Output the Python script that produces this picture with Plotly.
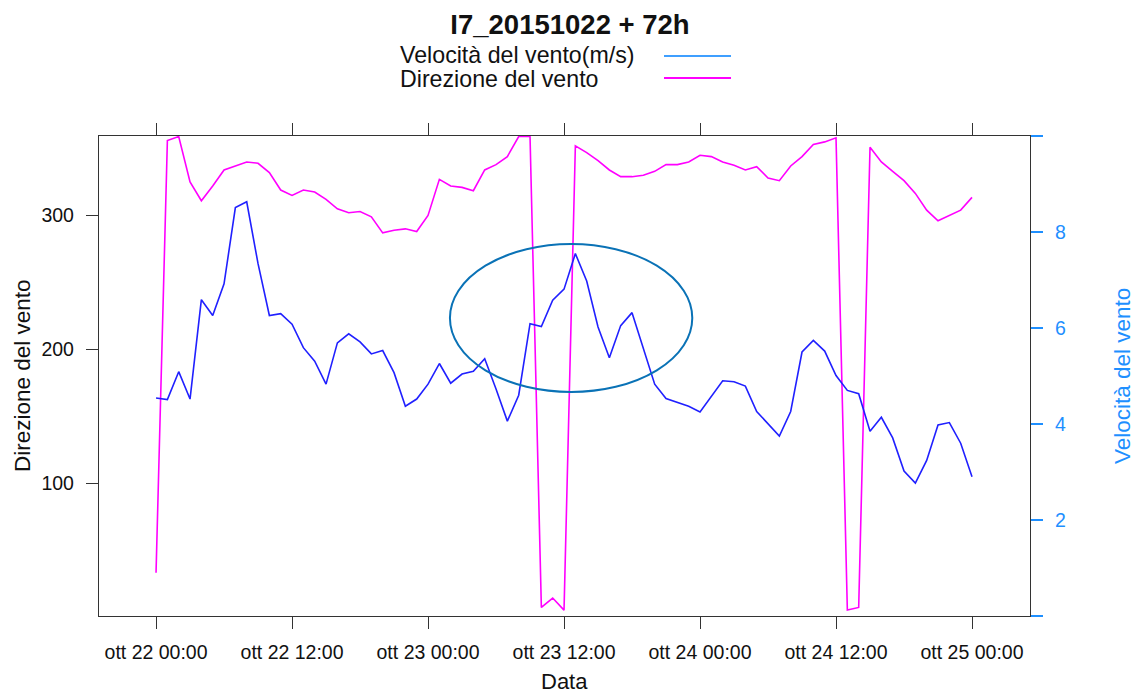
import pandas as pd
import plotly.graph_objects as go

# ---- data (hourly, 2015-10-22 00:00 -> 2015-10-25 00:00) ----
start_time = "2015-10-22 00:00"
n_hours = 73

direzione = [33, 356, 359, 325, 311, 322, 334, 337, 340, 339,
             332, 319, 315, 319, 317.5, 312, 305, 302, 303, 299,
             287, 289, 290, 288, 300, 327, 322, 321, 318.5, 334,
             338, 344, 359, 359, 7, 14, 5, 352, 347, 341,
             334, 329, 329, 330, 333, 338, 338, 340, 345, 344,
             340, 337.5, 334, 336.5, 328, 326, 337, 344, 353, 355,
             358, 5, 7, 351, 340, 333, 326, 316.5, 304, 296,
             300, 304, 313.5]

velocita = [4.54, 4.51, 5.09, 4.52, 6.59, 6.26, 6.92, 8.51, 8.63, 7.34,
            6.26, 6.30, 6.08, 5.59, 5.31, 4.83, 5.69, 5.88, 5.71, 5.46,
            5.53, 5.07, 4.37, 4.52, 4.83, 5.26, 4.85, 5.04, 5.10, 5.36,
            4.73, 4.06, 4.60, 6.09, 6.03, 6.58, 6.81, 7.55, 6.98, 6.02,
            5.38, 6.05, 6.32, 5.57, 4.83, 4.53, 4.45, 4.37, 4.25, 4.58,
            4.90, 4.88, 4.79, 4.26, 4.01, 3.75, 4.26, 5.50, 5.74, 5.52,
            5.01, 4.70, 4.63, 3.85, 4.14, 3.71, 3.02, 2.77, 3.24, 3.98,
            4.03, 3.60, 2.90]

x_tick_vals = ["2015-10-22 00:00", "2015-10-22 12:00", "2015-10-23 00:00",
               "2015-10-23 12:00", "2015-10-24 00:00", "2015-10-24 12:00",
               "2015-10-25 00:00"]
x_tick_text = ["ott 22 00:00", "ott 22 12:00", "ott 23 00:00", "ott 23 12:00",
               "ott 24 00:00", "ott 24 12:00", "ott 25 00:00"]
y_tick_vals = [100, 200, 300]
y2_tick_vals = [0, 2, 4, 6, 8, 10]
y2_tick_text = ["", "2", "4", "6", "8", ""]

title_text = "I7_20151022 + 72h"
legend_labels = ["Velocità del vento(m/s)", "Direzione del vento"]

# ---- styles / layout constants ----
FONT = "Liberation Sans, Arial, Helvetica, sans-serif"
C_SPEED = "#2020ff"
C_DIR = "#ff00ff"
C_AXIS2 = "#1e8fff"
C_LEG_SPEED = "#3f9fff"
C_ELLIPSE = "#0a72b6"
C_FRAME = "#333333"

W, H = 1138, 695
ML, MR, MT, MB = 99, 108, 136, 79
PW, PH = W - ML - MR, H - MT - MB

x_range = ["2015-10-21 18:58", "2015-10-25 05:07"]
y_range = [0.6, 359.4]
y2_range = [0, 10]
ellipse_x = ["2015-10-23 01:56", "2015-10-23 23:19"]
ellipse_y = [4.667, 7.75]

times = pd.date_range(start_time, periods=n_hours, freq="h")


def px_x(p):
    return (p - ML) / PW


def px_y(p):
    return (H - MB - p) / PH


fig = go.Figure()
fig.add_trace(go.Scatter(x=times, y=velocita, mode="lines", yaxis="y2",
                         line=dict(color=C_SPEED, width=1.6),
                         name=legend_labels[0], showlegend=False))
fig.add_trace(go.Scatter(x=times, y=direzione, mode="lines", yaxis="y",
                         line=dict(color=C_DIR, width=1.6),
                         name=legend_labels[1], showlegend=False))

fig.add_shape(type="circle", xref="x", yref="y2",
              x0=ellipse_x[0], x1=ellipse_x[1], y0=ellipse_y[0], y1=ellipse_y[1],
              line=dict(color=C_ELLIPSE, width=2), layer="above")

# custom legend (text left, line right)
leg_rows_y = [55, 79]
leg_line_y = [56, 78]
for label, ty, ly, col in zip(legend_labels, leg_rows_y, leg_line_y, [C_LEG_SPEED, C_DIR]):
    fig.add_annotation(text=label, xref="paper", yref="paper",
                       x=px_x(398), y=px_y(ty), xanchor="left", yanchor="middle",
                       showarrow=False, font=dict(family=FONT, size=23.2, color="#111111"))
    fig.add_shape(type="line", xref="paper", yref="paper",
                  x0=px_x(664), x1=px_x(731), y0=px_y(ly), y1=px_y(ly),
                  line=dict(color=col, width=2))

# axis titles
fig.add_annotation(text="Data", xref="paper", yref="paper", x=px_x(564), y=px_y(681),
                   xanchor="center", yanchor="middle", showarrow=False,
                   font=dict(family=FONT, size=22, color="#111111"))
fig.add_annotation(text="Direzione del vento", xref="paper", yref="paper",
                   x=px_x(22), y=px_y(376), xanchor="center", yanchor="middle",
                   textangle=-90, showarrow=False,
                   font=dict(family=FONT, size=22.5, color="#111111"))
fig.add_annotation(text="Velocità del vento", xref="paper", yref="paper",
                   x=px_x(1122), y=px_y(376), xanchor="center", yanchor="middle",
                   textangle=-90, showarrow=False,
                   font=dict(family=FONT, size=22.5, color=C_AXIS2))

fig.update_layout(
    width=W, height=H,
    margin=dict(l=ML, r=MR, t=MT, b=MB, pad=0),
    paper_bgcolor="white", plot_bgcolor="white",
    showlegend=False,
    title=dict(text="<b>" + title_text + "</b>", x=570 / W, xanchor="center",
               y=1 - 24 / H, yanchor="middle", yref="container",
               font=dict(family=FONT, size=27.5, color="#111111")),
    xaxis=dict(range=x_range, tickvals=x_tick_vals, ticktext=x_tick_text,
               showgrid=False, zeroline=False, showline=True, linecolor=C_FRAME,
               linewidth=1.3, mirror="ticks", ticks="outside", ticklen=12,
               tickwidth=1.3, tickcolor=C_FRAME, ticklabelstandoff=6,
               tickfont=dict(family=FONT, size=19.5, color="#111111")),
    yaxis=dict(range=y_range, tickvals=y_tick_vals, showgrid=False, zeroline=False,
               showline=True, linecolor=C_FRAME, linewidth=1.3, mirror=True,
               ticks="outside", ticklen=12, tickwidth=1.3, tickcolor=C_FRAME,
               ticklabelstandoff=8,
               tickfont=dict(family=FONT, size=19.5, color="#111111")),
    yaxis2=dict(range=y2_range, overlaying="y", side="right", tickvals=y2_tick_vals,
                ticktext=y2_tick_text, showgrid=False, zeroline=False,
                showline=True, linecolor=C_FRAME, linewidth=1.3,
                ticks="outside", ticklen=12, tickwidth=2, tickcolor=C_AXIS2,
                ticklabelstandoff=8,
                tickfont=dict(family=FONT, size=19.5, color=C_AXIS2)),
)

fig.write_html("out.html", config={"displayModeBar": False},
               post_script="document.body.style.margin='0';document.body.style.overflow='hidden';")
